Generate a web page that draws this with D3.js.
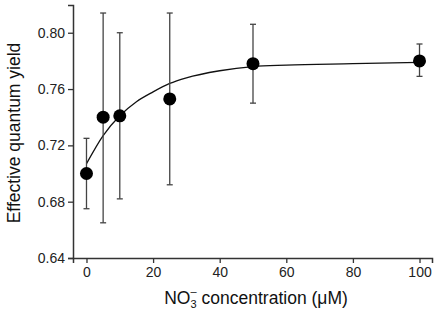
<!DOCTYPE html>
<html>
<head>
<meta charset="utf-8">
<script src="https://cdn.jsdelivr.net/npm/d3@7"></script>
<style>
  body { margin: 0; background: #fff; }
  text { font-family: "Liberation Sans", Arial, sans-serif; }
</style>
</head>
<body>
<div id="chart"></div>
<script>
// measured points: NO3- concentration vs effective quantum yield
var concentration = [0, 5, 10, 25, 50, 100];
var yieldMean = [0.700, 0.740, 0.741, 0.753, 0.778, 0.780];
var errLow = [0.675, 0.665, 0.682, 0.692, 0.750, 0.769];
var errHigh = [0.725, 0.814, 0.800, 0.814, 0.806, 0.792];

// fitted curve
var curveX = [0, 5, 10, 15, 20, 25, 30, 40, 50, 60, 80, 100];
var curveY = [0.707, 0.727, 0.741, 0.751, 0.758, 0.764, 0.768, 0.773, 0.776, 0.777, 0.778, 0.779];

var xTicks = [0, 20, 40, 60, 80, 100];
var yTicks = [0.64, 0.68, 0.72, 0.76, 0.80];

function create_yield_chart(width, height) {
    var svg = d3.select("#chart").append("svg")
        .attr("width", width)
        .attr("height", height);

    // scales, set so 0 -> 86.5px and 100 -> 419.5px, 0.64 -> 258px
    var x = d3.scaleLinear().domain([-4.05, 103.75]).range([73, 432]);
    var y = d3.scaleLinear().domain([0.64, 0.8197]).range([258, 5]);

    var axisColor = "#333";

    // y axis
    var yAxis = d3.axisLeft(y).tickValues(yTicks).tickFormat(d3.format(".2f"))
        .tickSize(5).tickPadding(3);
    var gy = svg.append("g")
        .attr("transform", "translate(73,0)")
        .call(yAxis);
    gy.select(".domain").attr("stroke", axisColor).attr("stroke-width", 1.5);
    gy.selectAll(".tick line").attr("stroke", axisColor).attr("stroke-width", 1.3);
    gy.selectAll(".tick text").style("font-size", "14px").attr("fill", "#222");

    // x axis
    var xAxis = d3.axisBottom(x).tickValues(xTicks).tickFormat(d3.format("d"))
        .tickSize(5).tickPadding(4);
    var gx = svg.append("g")
        .attr("transform", "translate(0,258)")
        .call(xAxis);
    gx.select(".domain").attr("stroke", axisColor).attr("stroke-width", 1.5);
    gx.selectAll(".tick line").attr("stroke", axisColor).attr("stroke-width", 1.3);
    gx.selectAll(".tick text").style("font-size", "14px").attr("fill", "#222");

    // fitted curve
    var line = d3.line()
        .x(function (d) { return x(d[0]); })
        .y(function (d) { return y(d[1]); })
        .curve(d3.curveMonotoneX);
    svg.append("path")
        .datum(d3.zip(curveX, curveY))
        .attr("d", line)
        .attr("fill", "none")
        .attr("stroke", "#111")
        .attr("stroke-width", 1.3);

    var data = concentration.map(function (c, i) {
        return { c: c, m: yieldMean[i], lo: errLow[i], hi: errHigh[i] };
    });

    // error bars
    var err = svg.selectAll(".err").data(data).enter().append("g").attr("class", "err")
        .attr("stroke", "#444").attr("stroke-width", 1.3);
    err.append("line")
        .attr("x1", function (d) { return x(d.c); })
        .attr("x2", function (d) { return x(d.c); })
        .attr("y1", function (d) { return y(d.lo); })
        .attr("y2", function (d) { return y(d.hi); });
    err.append("line")
        .attr("x1", function (d) { return x(d.c) - 3; })
        .attr("x2", function (d) { return x(d.c) + 3; })
        .attr("y1", function (d) { return y(d.hi); })
        .attr("y2", function (d) { return y(d.hi); });
    err.append("line")
        .attr("x1", function (d) { return x(d.c) - 3; })
        .attr("x2", function (d) { return x(d.c) + 3; })
        .attr("y1", function (d) { return y(d.lo); })
        .attr("y2", function (d) { return y(d.lo); });

    // points
    svg.selectAll(".dot").data(data).enter().append("circle")
        .attr("class", "dot")
        .attr("cx", function (d) { return x(d.c); })
        .attr("cy", function (d) { return y(d.m); })
        .attr("r", 6.5)
        .attr("fill", "#000");

    // y axis label
    svg.append("text")
        .attr("text-anchor", "middle")
        .attr("transform", "rotate(-90)")
        .attr("x", -133)
        .attr("y", 19.5)
        .style("font-size", "17.5px")
        .attr("fill", "#111")
        .text("Effective quantum yield");

    // x axis label with NO3- sub/superscript
    var xl = svg.append("text")
        .attr("text-anchor", "middle")
        .attr("x", 256)
        .attr("y", 304)
        .style("font-size", "17.5px")
        .attr("fill", "#111");
    xl.append("tspan").text("NO");
    xl.append("tspan").attr("dy", 4).style("font-size", "11px").text("3");
    xl.append("tspan").attr("dx", -6).attr("dy", -13).style("font-size", "11px").text("\u2013");
    xl.append("tspan").attr("dy", 9).text(" concentration (\u03bcM)");
}

create_yield_chart(438, 313);
</script>
</body>
</html>
